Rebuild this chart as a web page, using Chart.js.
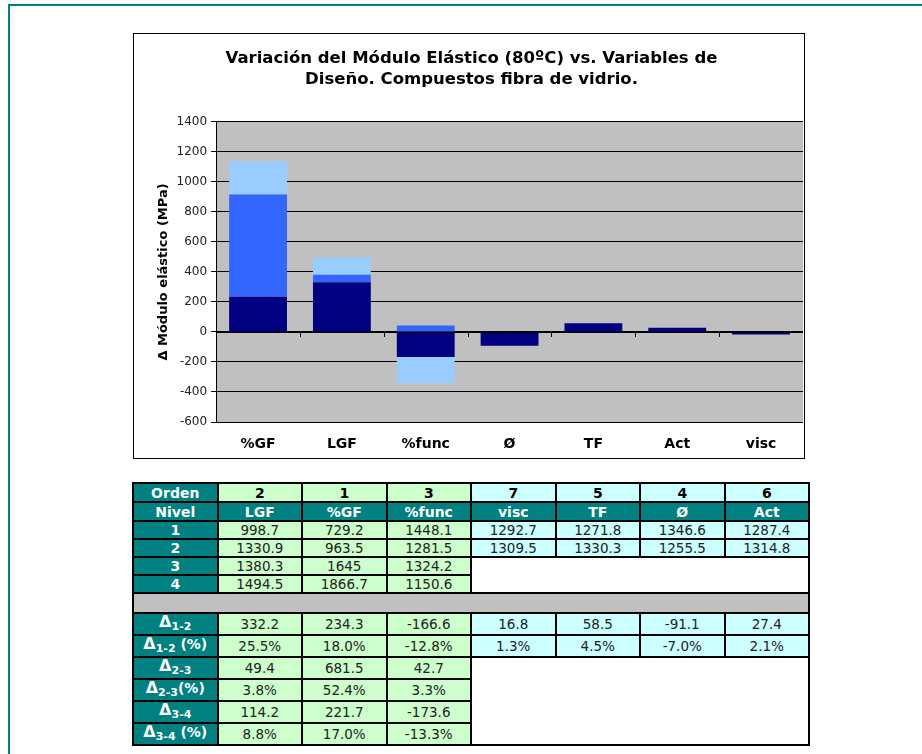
<!DOCTYPE html>
<html>
<head>
<meta charset="utf-8">
<script src="https://cdn.jsdelivr.net/npm/chart.js@4.4.1/dist/chart.umd.min.js"></script>
<style>
    body { margin: 0; background: #fff; width: 922px; height: 754px; overflow: hidden; position: relative; font-family: 'DejaVu Sans', Verdana, sans-serif; }
    .frame-top { position: absolute; left: 8px; top: 4px; width: 914px; height: 2px; background: #008080; }
    .frame-left { position: absolute; left: 8px; top: 4px; width: 2px; height: 750px; background: #008080; }
    .chart-box { position: absolute; left: 133px; top: 33px; width: 670px; height: 424px; border: 1px solid #000; background: #fff; }
    .chart-box canvas { display: block; }
    table.data { position: absolute; left: 132px; top: 482px; width: 678px; border-collapse: collapse; table-layout: fixed; font-size: 13.5px; color: #222; }
    table.data td { border: 2px solid #000; text-align: center; padding: 0; line-height: 14px; }
    td.h { background: #008080; color: #fff; font-weight: bold; font-size: 14px; }
    td.g { background: #CCFFCC; }
    td.c { background: #CCFFFF; }
    td.b { font-weight: bold; color: #000; font-size: 14px; }
    td.w { background: #fff; }
    td.sep { background: #C0C0C0; }
    td.h .d { font-size: 16px; }
    td.h sub { font-size: 11px; vertical-align: -3px; }
</style>
</head>
<body>
<div class="frame-top"></div>
<div class="frame-left"></div>
<div class="chart-box"><canvas id="modChart" width="670" height="424"></canvas></div>
<table class="data" id="dataTable"></table>

<script>
// Chart data
const categories = ['%GF', 'LGF', '%func', 'Ø', 'TF', 'Act', 'visc'];
const delta12 = [234.3, 332.2, -166.6, -91.1, 58.5, 27.4, -16.8];
const delta23 = [681.5, 49.4, 42.7, null, null, null, null];
const delta34 = [221.7, 114.2, -173.6, null, null, null, null];
const yTicks = [-600, -400, -200, 0, 200, 400, 600, 800, 1000, 1200, 1400];

// Table data
const tableCols = ['LGF', '%GF', '%func', 'visc', 'TF', 'Ø', 'Act'];
const tableOrder = ['2', '1', '3', '7', '5', '4', '6'];
const nivel1 = ['998.7', '729.2', '1448.1', '1292.7', '1271.8', '1346.6', '1287.4'];
const nivel2 = ['1330.9', '963.5', '1281.5', '1309.5', '1330.3', '1255.5', '1314.8'];
const nivel3 = ['1380.3', '1645', '1324.2'];
const nivel4 = ['1494.5', '1866.7', '1150.6'];
const d12 = ['332.2', '234.3', '-166.6', '16.8', '58.5', '-91.1', '27.4'];
const d12p = ['25.5%', '18.0%', '-12.8%', '1.3%', '4.5%', '-7.0%', '2.1%'];
const d23 = ['49.4', '681.5', '42.7'];
const d23p = ['3.8%', '52.4%', '3.3%'];
const d34 = ['114.2', '221.7', '-173.6'];
const d34p = ['8.8%', '17.0%', '-13.3%'];

// fondo gris del área de trazado
const plotBg = {
    id: 'plotBg',
    beforeDraw(chart) {
        const { ctx, chartArea: { left, top, width, height } } = chart;
        ctx.save();
        ctx.fillStyle = '#C0C0C0';
        ctx.fillRect(left, top, width, height);
        ctx.restore();
    }
};

// marcas del eje X sobre la línea de cero
const zeroTicks = {
    id: 'zeroTicks',
    afterDatasetsDraw(chart) {
        const { ctx } = chart;
        const x = chart.scales.x;
        const y0 = chart.scales.y.getPixelForValue(0);
        ctx.save();
        ctx.strokeStyle = '#000';
        ctx.lineWidth = 1;
        ctx.beginPath();
        ctx.moveTo(chart.chartArea.left, Math.round(y0) + 0.5);
        ctx.lineTo(chart.chartArea.right, Math.round(y0) + 0.5);
        for (let i = 1; i < categories.length; i++) {
            const px = Math.round(x.getPixelForValue(i - 0.5)) + 0.5;
            ctx.moveTo(px, y0);
            ctx.lineTo(px, y0 + 5);
        }
        ctx.stroke();
        ctx.restore();
    }
};

const ctx = document.getElementById('modChart');
new Chart(ctx, {
    type: 'bar',
    data: {
        labels: categories,
        datasets: [
            { label: 'Δ1-2', data: delta12, backgroundColor: '#000080' },
            { label: 'Δ2-3', data: delta23, backgroundColor: '#3366FF' },
            { label: 'Δ3-4', data: delta34, backgroundColor: '#99CCFF' },
        ]
    },
    plugins: [plotBg, zeroTicks],
    options: {
        responsive: false,
        animation: false,
        layout: {
            padding: { left: 6, right: 1, top: 0, bottom: 0 }
        },
        datasets: {
            bar: {
                categoryPercentage: 1,
                barPercentage: 0.69,
                borderWidth: 0,
            }
        },
        scales: {
            x: {
                stacked: true,
                grid: { display: false },
                border: { display: false },
                afterFit: (scale) => {
                    scale.height = 36;
                },
                ticks: {
                    color: '#000',
                    padding: 6,
                    font: { family: 'DejaVu Sans', size: 14, weight: 'bold' }
                }
            },
            y: {
                stacked: true,
                min: -600,
                max: 1400,
                afterBuildTicks: (scale) => {
                    scale.ticks = yTicks.map(v => ({ value: v }));
                },
                border: { display: true, color: '#000', width: 1 },
                grid: {
                    color: '#000',
                    lineWidth: 1,
                    drawTicks: true,
                    tickLength: 5,
                },
                ticks: {
                    color: '#222',
                    padding: 4,
                    callback: (value) => String(value),
                    font: { family: 'DejaVu Sans', size: 12 }
                },
                title: {
                    display: true,
                    text: 'Δ Módulo elástico (MPa)',
                    color: '#000',
                    padding: { top: 16, bottom: 1 },
                    font: { family: 'DejaVu Sans', size: 13, weight: 'bold' }
                }
            }
        },
        plugins: {
            legend: { display: false },
            tooltip: { enabled: false },
            title: {
                display: true,
                text: ['Variación del Módulo Elástico (80ºC) vs. Variables de', 'Diseño. Compuestos fibra de vidrio.'],
                color: '#000',
                padding: { top: 14, bottom: 32 },
                font: { family: 'DejaVu Sans', size: 16.5, weight: 'bold', lineHeight: 1.27 }
            }
        }
    }
});

// Tabla
function cells(values, cls) {
    return values.map(v => '<td class="' + cls + '">' + v + '</td>').join('');
}
function deltaLabel(sub, pct) {
    return '<span class="d">Δ</span><sub>' + sub + '</sub>' + pct;
}
const greenCls = (i) => (i < 3 ? 'g' : 'c');
let html = '<colgroup>' + '<col style="width:84px">'.repeat(8) + '</colgroup>';
html += '<tr style="height:19px"><td class="h">Orden</td>' + tableOrder.map((v, i) => '<td class="' + greenCls(i) + ' b">' + v + '</td>').join('') + '</tr>';
html += '<tr style="height:19px"><td class="h">Nivel</td>' + cells(tableCols, 'h') + '</tr>';
html += '<tr style="height:18px"><td class="h">1</td>' + nivel1.map((v, i) => '<td class="' + greenCls(i) + '">' + v + '</td>').join('') + '</tr>';
html += '<tr style="height:18px"><td class="h">2</td>' + nivel2.map((v, i) => '<td class="' + greenCls(i) + '">' + v + '</td>').join('') + '</tr>';
html += '<tr style="height:18px"><td class="h">3</td>' + cells(nivel3, 'g') + '<td class="w" colspan="4" rowspan="2"></td></tr>';
html += '<tr style="height:18px"><td class="h">4</td>' + cells(nivel4, 'g') + '</tr>';
html += '<tr style="height:20px"><td class="sep" colspan="8"></td></tr>';
html += '<tr style="height:22px"><td class="h">' + deltaLabel('1-2', '') + '</td>' + d12.map((v, i) => '<td class="' + greenCls(i) + '">' + v + '</td>').join('') + '</tr>';
html += '<tr style="height:22px"><td class="h">' + deltaLabel('1-2', ' (%)') + '</td>' + d12p.map((v, i) => '<td class="' + greenCls(i) + '">' + v + '</td>').join('') + '</tr>';
html += '<tr style="height:22px"><td class="h">' + deltaLabel('2-3', '') + '</td>' + cells(d23, 'g') + '<td class="w" colspan="4" rowspan="4"></td></tr>';
html += '<tr style="height:22px"><td class="h">' + deltaLabel('2-3', '(%)') + '</td>' + cells(d23p, 'g') + '</tr>';
html += '<tr style="height:22px"><td class="h">' + deltaLabel('3-4', '') + '</td>' + cells(d34, 'g') + '</tr>';
html += '<tr style="height:22px"><td class="h">' + deltaLabel('3-4', ' (%)') + '</td>' + cells(d34p, 'g') + '</tr>';
document.getElementById('dataTable').innerHTML = html;
</script>
</body>
</html>
